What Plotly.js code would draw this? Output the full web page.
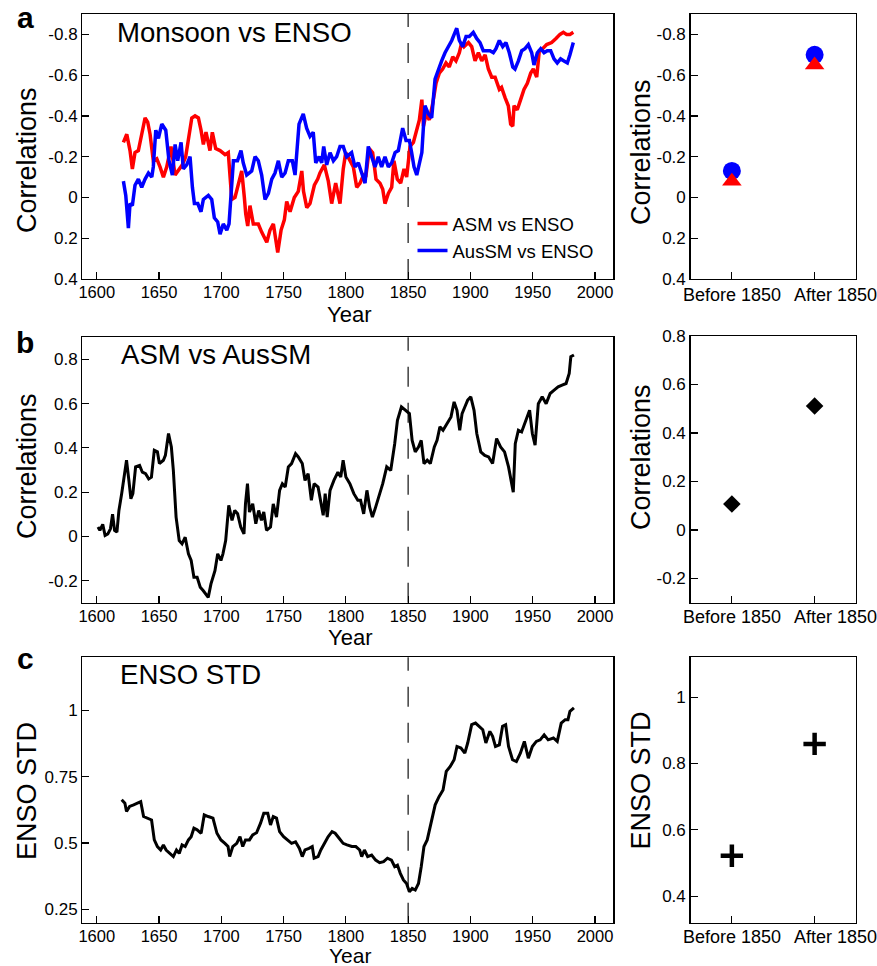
<!DOCTYPE html>
<html>
<head>
<meta charset="utf-8">
<script src="https://cdn.plot.ly/plotly-3.0.1.min.js"></script>
<style>html,body{margin:0;padding:0;background:#fff;}#chart{width:877px;height:966px;}</style>
</head>
<body>
<div id="chart"></div>
<script>
// ---------- data ----------
const asmEnsoYears = [1621.4,1624.1,1626.7,1628.6,1630.7,1633.4,1636.1,1638.8,1640.9,1642.8,1645.4,1648.2,1650.8,1653.5,1656.2,1659.6,1662.9,1665.5,1668.7,1671.4,1673.5,1676.3,1678.9,1681.6,1683.7,1685.6,1687.7,1690.9,1692.8,1695.5,1699.0,1703.0,1705.6,1707.0,1708.4,1711.0,1713.7,1716.4,1718.5,1719.6,1721.2,1723.0,1725.7,1729.7,1732.4,1736.5,1739.1,1741.8,1745.3,1748.0,1750.6,1752.5,1755.2,1758.6,1761.8,1764.6,1766.0,1768.6,1771.2,1774.7,1777.4,1779.2,1782.7,1785.9,1788.6,1791.8,1795.3,1797.9,1799.9,1803.3,1806.0,1808.7,1811.4,1814.1,1816.0,1818.8,1821.5,1824.2,1827.4,1829.6,1831.4,1834.1,1836.8,1838.6,1841.3,1844.0,1846.7,1848.8,1851.5,1854.2,1856.9,1859.0,1861.0,1862.3,1864.4,1867.0,1869.7,1872.4,1875.0,1877.7,1880.4,1883.0,1885.8,1888.4,1891.1,1893.0,1894.9,1898.4,1901.0,1903.7,1906.4,1909.1,1911.8,1914.4,1917.1,1919.8,1923.2,1925.0,1927.8,1930.4,1932.3,1934.0,1935.0,1937.6,1940.3,1943.0,1945.7,1948.4,1950.5,1953.2,1955.3,1958.0,1961.2,1965.2,1968.7,1971.9,1974.6,1977.2,1979.9,1982.6];
const asmEnsoValues = [-0.27,-0.31,-0.23,-0.14,-0.22,-0.23,-0.31,-0.39,-0.37,-0.31,-0.18,-0.19,-0.15,-0.10,-0.15,-0.25,-0.11,-0.13,-0.16,-0.20,-0.28,-0.39,-0.40,-0.39,-0.33,-0.26,-0.32,-0.23,-0.32,-0.24,-0.23,-0.21,-0.22,-0.12,0.01,0.00,-0.07,-0.13,0.00,0.08,0.14,0.04,0.13,0.13,0.17,0.22,0.16,0.13,0.27,0.16,0.11,0.02,0.07,0.00,-0.03,-0.13,-0.03,0.05,0.03,-0.06,-0.09,-0.12,-0.16,-0.08,0.03,-0.07,0.03,-0.14,-0.22,-0.18,-0.15,-0.05,-0.07,-0.11,-0.10,-0.24,-0.22,-0.09,-0.07,-0.04,0.03,-0.02,-0.05,-0.18,-0.09,-0.07,-0.14,-0.10,-0.25,-0.27,-0.33,-0.38,-0.48,-0.35,-0.41,-0.38,-0.46,-0.56,-0.61,-0.63,-0.66,-0.64,-0.69,-0.67,-0.71,-0.76,-0.74,-0.76,-0.74,-0.67,-0.71,-0.67,-0.70,-0.63,-0.59,-0.59,-0.53,-0.54,-0.49,-0.45,-0.36,-0.35,-0.45,-0.43,-0.48,-0.53,-0.56,-0.61,-0.63,-0.59,-0.72,-0.73,-0.75,-0.76,-0.78,-0.80,-0.81,-0.80,-0.80,-0.81];

const ausEnsoYears = [1621.4,1623.3,1625.4,1626.7,1628.6,1630.7,1633.4,1636.1,1638.8,1641.5,1644.2,1645.4,1647.4,1649.5,1652.2,1655.4,1658.0,1660.7,1662.9,1665.0,1667.7,1669.5,1672.2,1674.9,1676.8,1678.4,1681.1,1683.7,1685.6,1689.6,1692.3,1694.4,1697.1,1699.0,1701.6,1704.4,1706.2,1707.8,1709.7,1713.0,1715.8,1717.6,1720.4,1724.4,1727.1,1729.7,1732.4,1735.1,1737.8,1740.5,1743.1,1745.8,1748.5,1751.2,1753.8,1757.0,1759.2,1762.4,1765.8,1768.5,1771.2,1773.8,1775.8,1778.5,1780.6,1782.2,1784.6,1787.3,1790.0,1792.6,1795.3,1797.9,1800.6,1804.6,1807.3,1810.0,1812.6,1815.4,1818.0,1820.7,1823.4,1826.0,1828.7,1831.4,1834.1,1836.8,1839.5,1842.1,1845.6,1848.3,1851.0,1852.8,1854.7,1856.9,1859.0,1861.0,1862.3,1863.5,1866.2,1868.9,1871.6,1874.3,1876.9,1879.6,1882.3,1885.0,1887.6,1889.0,1891.1,1893.8,1896.5,1899.1,1902.3,1905.0,1907.7,1910.3,1913.0,1915.7,1918.4,1920.5,1923.2,1925.9,1928.5,1931.2,1934.0,1935.8,1938.5,1941.2,1943.8,1946.5,1949.2,1951.0,1953.7,1956.4,1959.1,1961.7,1964.4,1967.1,1969.7,1972.4,1975.1,1977.8,1979.9,1982.6];
const ausEnsoValues = [-0.08,-0.01,0.15,0.03,0.04,-0.06,-0.09,-0.05,-0.09,-0.12,-0.10,-0.15,-0.33,-0.29,-0.36,-0.33,-0.18,-0.11,-0.26,-0.18,-0.27,-0.14,-0.16,-0.20,-0.05,0.03,0.03,0.07,0.01,-0.01,0.01,0.10,0.12,0.18,0.13,0.16,0.13,-0.04,-0.18,-0.18,-0.23,-0.17,-0.11,-0.13,-0.20,-0.18,-0.11,0.01,-0.02,-0.09,-0.12,-0.18,-0.10,-0.12,-0.18,-0.18,-0.11,-0.36,-0.41,-0.34,-0.30,-0.32,-0.17,-0.20,-0.17,-0.25,-0.16,-0.22,-0.18,-0.20,-0.25,-0.25,-0.20,-0.22,-0.15,-0.17,-0.12,-0.07,-0.25,-0.20,-0.15,-0.20,-0.15,-0.20,-0.15,-0.17,-0.22,-0.23,-0.34,-0.28,-0.28,-0.22,-0.15,-0.11,-0.17,-0.22,-0.35,-0.45,-0.41,-0.39,-0.58,-0.63,-0.67,-0.71,-0.74,-0.77,-0.81,-0.83,-0.77,-0.74,-0.79,-0.79,-0.81,-0.78,-0.76,-0.72,-0.72,-0.72,-0.71,-0.73,-0.77,-0.74,-0.76,-0.71,-0.64,-0.63,-0.67,-0.72,-0.73,-0.75,-0.71,-0.65,-0.71,-0.73,-0.71,-0.72,-0.72,-0.68,-0.66,-0.68,-0.67,-0.66,-0.70,-0.76];

const asmAusYears = [1601.0,1602.5,1604.8,1606.7,1608.9,1611.0,1612.7,1614.3,1616.2,1617.8,1620.0,1622.6,1623.9,1625.8,1627.4,1629.0,1631.2,1634.4,1636.6,1639.2,1641.7,1643.9,1646.2,1648.7,1650.3,1653.5,1655.1,1657.6,1659.9,1661.5,1663.7,1666.2,1668.5,1671.0,1673.6,1675.8,1678.0,1680.6,1683.1,1685.4,1687.6,1689.5,1691.7,1694.9,1697.1,1699.7,1701.3,1703.5,1706.0,1708.6,1710.8,1713.1,1715.6,1718.2,1719.4,1721.0,1722.6,1725.2,1727.7,1730.0,1732.2,1734.1,1736.3,1739.5,1741.7,1744.3,1746.8,1749.0,1751.3,1753.8,1756.4,1759.6,1761.8,1765.0,1767.2,1769.7,1772.3,1774.5,1777.7,1779.9,1781.8,1783.4,1785.0,1787.3,1790.4,1793.6,1795.9,1797.8,1800.0,1803.2,1806.4,1809.6,1811.8,1814.3,1816.9,1819.1,1821.3,1823.9,1826.4,1829.6,1832.8,1836.0,1839.2,1841.4,1844.6,1847.8,1851.0,1853.2,1855.7,1858.3,1860.5,1862.7,1865.3,1867.8,1871.0,1873.2,1875.5,1878.0,1881.2,1884.4,1886.9,1889.2,1891.4,1893.3,1895.5,1897.8,1900.3,1902.9,1905.1,1908.3,1911.5,1914.6,1917.8,1921.0,1924.2,1927.4,1930.6,1932.8,1934.4,1936.0,1938.5,1941.1,1944.3,1947.5,1949.7,1951.9,1954.5,1957.6,1960.8,1964.0,1967.2,1970.4,1973.6,1976.8,1979.3,1980.6,1983.1];
const asmAusValues = [0.042,0.027,0.054,0.004,0.011,0.034,0.10,0.027,0.019,0.117,0.193,0.298,0.344,0.253,0.17,0.193,0.314,0.321,0.29,0.283,0.26,0.268,0.389,0.382,0.329,0.344,0.366,0.465,0.404,0.298,0.087,-0.019,-0.034,-0.004,-0.079,-0.109,-0.185,-0.185,-0.23,-0.245,-0.26,-0.276,-0.215,-0.155,-0.079,-0.109,-0.079,-0.019,0.14,0.072,0.117,0.102,0.042,0.011,0.147,0.238,0.11,0.147,0.057,0.117,0.072,0.11,0.027,0.042,0.147,0.087,0.208,0.238,0.223,0.314,0.329,0.374,0.359,0.329,0.253,0.283,0.163,0.238,0.223,0.163,0.095,0.193,0.087,0.208,0.253,0.29,0.268,0.344,0.268,0.238,0.193,0.163,0.163,0.102,0.208,0.132,0.087,0.132,0.178,0.238,0.314,0.298,0.419,0.525,0.585,0.57,0.555,0.434,0.382,0.404,0.434,0.329,0.344,0.329,0.404,0.434,0.495,0.48,0.51,0.54,0.608,0.57,0.48,0.555,0.585,0.616,0.631,0.57,0.465,0.382,0.366,0.359,0.329,0.442,0.404,0.382,0.314,0.238,0.20,0.419,0.48,0.472,0.525,0.57,0.465,0.412,0.60,0.631,0.60,0.646,0.661,0.676,0.684,0.691,0.737,0.812,0.82];

const ensoStdYears = [1620.0,1622.6,1623.9,1626.4,1629.6,1632.8,1635.3,1637.6,1640.8,1644.0,1646.2,1648.7,1651.3,1653.5,1655.7,1658.3,1661.5,1664.0,1666.2,1668.5,1671.0,1673.6,1675.8,1678.0,1680.6,1683.8,1686.3,1689.5,1693.3,1696.5,1699.7,1702.9,1705.4,1706.7,1709.2,1712.4,1715.0,1717.2,1719.4,1722.6,1725.2,1728.3,1731.5,1734.1,1737.3,1739.5,1741.7,1744.3,1746.8,1750.0,1753.2,1756.4,1759.6,1762.7,1765.0,1767.2,1770.4,1773.0,1774.5,1777.7,1779.9,1782.5,1785.7,1788.9,1791.4,1794.6,1797.8,1800.9,1804.8,1808.0,1811.1,1812.7,1814.9,1817.5,1820.7,1823.9,1827.1,1830.3,1833.4,1836.6,1839.2,1841.4,1843.7,1846.2,1848.7,1851.0,1853.2,1855.7,1858.3,1860.5,1862.7,1865.3,1868.5,1871.7,1874.8,1878.0,1880.6,1883.8,1886.9,1889.2,1892.4,1895.5,1897.8,1901.0,1904.1,1907.3,1909.9,1912.4,1915.6,1917.8,1920.1,1923.2,1925.8,1928.3,1930.6,1933.8,1936.9,1940.1,1943.3,1946.5,1949.7,1952.9,1956.0,1959.2,1962.4,1966.6,1969.7,1972.9,1976.1,1978.3,1979.9,1983.1];
const ensoStdValues = [0.663,0.65,0.619,0.638,0.644,0.65,0.656,0.60,0.594,0.587,0.512,0.487,0.474,0.493,0.474,0.461,0.449,0.474,0.461,0.493,0.487,0.512,0.524,0.556,0.55,0.537,0.606,0.60,0.594,0.537,0.512,0.499,0.487,0.449,0.487,0.499,0.524,0.487,0.512,0.512,0.531,0.539,0.575,0.612,0.612,0.568,0.60,0.594,0.543,0.524,0.512,0.499,0.505,0.48,0.449,0.474,0.48,0.487,0.443,0.449,0.474,0.499,0.524,0.543,0.537,0.518,0.499,0.493,0.487,0.487,0.474,0.449,0.474,0.449,0.455,0.436,0.426,0.43,0.443,0.436,0.411,0.417,0.386,0.361,0.348,0.317,0.329,0.323,0.348,0.411,0.487,0.512,0.575,0.644,0.675,0.70,0.77,0.789,0.814,0.864,0.858,0.839,0.877,0.946,0.952,0.94,0.927,0.877,0.921,0.902,0.864,0.87,0.94,0.946,0.864,0.814,0.807,0.839,0.883,0.82,0.864,0.883,0.889,0.908,0.889,0.896,0.883,0.952,0.965,0.965,0.996,1.009];

const periodLabels = ['Before 1850', 'After 1850'];
const asmEnsoPeriod = [-0.08, -0.65];
const ausEnsoPeriod = [-0.13, -0.70];
const asmAusPeriod = [0.107, 0.511];
const ensoStdPeriod = [0.522, 0.859];

const yearTicks = [1600, 1650, 1700, 1750, 1800, 1850, 1900, 1950, 2000];
const corrTicksA = [-0.8, -0.6, -0.4, -0.2, 0, 0.2, 0.4];
const corrTextA = ['-0.8', '-0.6', '-0.4', '-0.2', '0', '0.2', '0.4'];
const corrTicksB = [-0.2, 0, 0.2, 0.4, 0.6, 0.8];
const corrTextB = ['-0.2', '0', '0.2', '0.4', '0.6', '0.8'];
const stdTicksLeft = [0.25, 0.5, 0.75, 1];
const stdTextLeft = ['0.25', '0.5', '0.75', '1'];
const stdTicksRight = [0.4, 0.6, 0.8, 1];
const stdTextRight = ['0.4', '0.6', '0.8', '1'];
const breakYear = 1850;

// ---------- layout helpers ----------
const W = 877, H = 966;
const FONT = 'Liberation Sans, Arial, Helvetica, sans-serif';
const px = v => v / W;
const py = v => 1 - v / H;

const leftDom = [px(82.3), px(613.3)];
const rightDom = [px(690.5), px(856)];
const rowDom = [[py(279), py(14)], [py(602.7), py(337.3)], [py(922.7), py(657.3)]];

function baseAxis(extra) {
  return Object.assign({
    showline: true, mirror: true, linecolor: '#000', linewidth: 1.3,
    ticks: 'inside', ticklen: 7, tickcolor: '#000', tickwidth: 1.2,
    showgrid: false, zeroline: false, fixedrange: true,
    tickfont: {family: FONT, size: 17, color: '#000'}
  }, extra);
}
function yearAxis(anchor) {
  return baseAxis({domain: leftDom, anchor: anchor, range: [1588.4, 2014.7],
    tickmode: 'array', tickvals: yearTicks, ticklabelstandoff: -2,
    tickfont: {family: FONT, size: 16.5, color: '#000'}});
}
function catAxis(anchor) {
  return baseAxis({domain: rightDom, anchor: anchor, type: 'category', range: [-0.5, 1.5],
    categoryorder: 'array', categoryarray: periodLabels, showticklabels: false});
}

const traces = [
  {x: asmEnsoYears, y: asmEnsoValues, xaxis: 'x', yaxis: 'y', type: 'scatter', mode: 'lines',
   name: 'ASM vs ENSO', line: {color: '#ff0000', width: 3.5}},
  {x: ausEnsoYears, y: ausEnsoValues, xaxis: 'x', yaxis: 'y', type: 'scatter', mode: 'lines',
   name: 'AusSM vs ENSO', line: {color: '#0000ff', width: 3.5}},
  {x: periodLabels, y: ausEnsoPeriod, xaxis: 'x2', yaxis: 'y2', type: 'scatter', mode: 'markers',
   showlegend: false, name: 'AusSM vs ENSO', marker: {symbol: 'circle', size: 18, color: '#0000ff'}},
  {x: periodLabels, y: asmEnsoPeriod, xaxis: 'x2', yaxis: 'y2', type: 'scatter', mode: 'markers',
   showlegend: false, name: 'ASM vs ENSO', marker: {symbol: 'triangle-up', size: 17, color: '#ff0000'}},
  {x: asmAusYears, y: asmAusValues, xaxis: 'x3', yaxis: 'y3', type: 'scatter', mode: 'lines',
   showlegend: false, name: 'ASM vs AusSM', line: {color: '#000', width: 3}},
  {x: periodLabels, y: asmAusPeriod, xaxis: 'x4', yaxis: 'y4', type: 'scatter', mode: 'markers',
   showlegend: false, name: 'ASM vs AusSM', marker: {symbol: 'diamond', size: 13.5, color: '#000'}},
  {x: ensoStdYears, y: ensoStdValues, xaxis: 'x5', yaxis: 'y5', type: 'scatter', mode: 'lines',
   showlegend: false, name: 'ENSO STD', line: {color: '#000', width: 3}},
  {x: periodLabels, y: ensoStdPeriod, xaxis: 'x6', yaxis: 'y6', type: 'scatter', mode: 'markers',
   showlegend: false, name: 'ENSO STD',
   marker: {symbol: 'cross-thin', size: 16, color: '#000', line: {color: '#000', width: 4.5}}}
];

function dashLine(xref, yref) {
  return {type: 'line', xref: xref, yref: yref + ' domain', x0: breakYear, x1: breakYear, y0: 0, y1: 1,
    line: {color: '#333', width: 1.4, dash: '20px,16px'}, layer: 'below'};
}

function ann(text, x, y, size, opts) {
  return Object.assign({text: text, xref: 'paper', yref: 'paper', x: px(x), y: py(y),
    showarrow: false, font: {family: FONT, size: size, color: '#000'},
    xanchor: 'center', yanchor: 'middle'}, opts || {});
}

const annotations = [
  ann('<b>a</b>', 25, 17.8, 30),
  ann('<b>b</b>', 25, 342.8, 30),
  ann('<b>c</b>', 25, 658.8, 30),
  ann('Monsoon vs ENSO', 114.5, 32.2, 27.6, {xanchor: 'left'}),
  ann('ASM vs AusSM', 118.5, 354.9, 27.6, {xanchor: 'left'}),
  ann('ENSO STD', 117.5, 674.9, 27.6, {xanchor: 'left'}),
  ann('Correlations', 27, 160, 27, {textangle: -90}),
  ann('Correlations', 27, 466, 27, {textangle: -90}),
  ann('ENSO STD', 27, 791, 27, {textangle: -90}),
  ann('Correlations', 640.5, 152.5, 27, {textangle: -90}),
  ann('Correlations', 640.5, 457.5, 27, {textangle: -90}),
  ann('ENSO STD', 640.5, 781, 27, {textangle: -90}),
  ann('Year', 349, 314, 22, {borderpad: 0}),
  ann('Year', 350, 637.7, 22, {borderpad: 0}),
  ann('Year', 350, 955, 21, {borderpad: 0})
];
// category labels of the right-hand panels (drawn as text under each panel)
[295, 617, 937].forEach(function (yc) {
  annotations.push(ann(periodLabels[0], 731.7, yc, 18));
  annotations.push(ann(periodLabels[1], 792, yc, 18, {xanchor: 'left'}));
});

const layout = {
  width: W, height: H,
  margin: {l: 0, r: 0, t: 0, b: 0},
  paper_bgcolor: '#fff', plot_bgcolor: '#fff',
  font: {family: FONT, color: '#000'},
  showlegend: true,
  legend: {x: px(412.5), y: py(237.5), xanchor: 'left', yanchor: 'middle',
    bgcolor: 'rgba(0,0,0,0)', borderwidth: 0, font: {family: FONT, size: 18.5, color: '#000'},
    tracegroupgap: 0},
  xaxis: yearAxis('y'),
  yaxis: baseAxis({domain: rowDom[0], anchor: 'x', range: [0.4, -0.9], tickmode: 'array',
    tickvals: corrTicksA, ticktext: corrTextA}),
  xaxis2: catAxis('y2'),
  yaxis2: baseAxis({domain: rowDom[0], anchor: 'x2', range: [0.4, -0.9], tickmode: 'array',
    tickvals: corrTicksA, ticktext: corrTextA}),
  xaxis3: yearAxis('y3'),
  yaxis3: baseAxis({domain: rowDom[1], anchor: 'x3', range: [-0.3, 0.9], tickmode: 'array',
    tickvals: corrTicksB, ticktext: corrTextB}),
  xaxis4: catAxis('y4'),
  yaxis4: baseAxis({domain: [py(602.7), py(336)], anchor: 'x4', range: [-0.3, 0.8], tickmode: 'array',
    tickvals: corrTicksB, ticktext: corrTextB}),
  xaxis5: yearAxis('y5'),
  yaxis5: baseAxis({domain: rowDom[2], anchor: 'x5', range: [0.2, 1.2], tickmode: 'array',
    tickvals: stdTicksLeft, ticktext: stdTextLeft}),
  xaxis6: catAxis('y6'),
  yaxis6: baseAxis({domain: rowDom[2], anchor: 'x6', range: [0.32, 1.12], tickmode: 'array',
    tickvals: stdTicksRight, ticktext: stdTextRight}),
  shapes: [dashLine('x', 'y'), dashLine('x3', 'y3'), dashLine('x5', 'y5')],
  annotations: annotations
};

Plotly.newPlot('chart', traces, layout, {displayModeBar: false, staticPlot: true});
</script>
</body>
</html>
